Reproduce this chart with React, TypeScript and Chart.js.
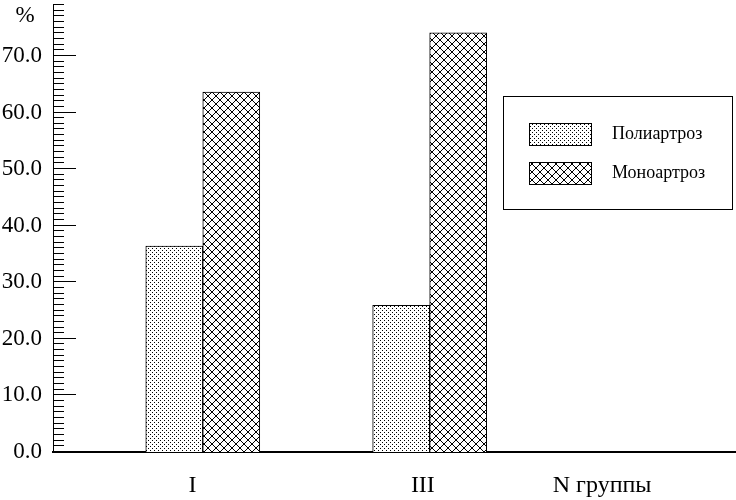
import React, { useEffect, useRef } from 'react';
import { Chart, registerables } from 'chart.js';

Chart.register(...registerables);

// ---- data ----
const groupPositions = [1, 2]; // groups I and III on the x axis
const seriesNames = ['Полиартроз', 'Моноартроз'];
const poliValues = [36.4, 25.9];
const monoValues = [63.6, 74.1];
const xTickValues = [0.955, 1.97, 2.76];
const xTickLabels = ['I', 'III', 'N группы'];
const yMin = 0;
const yMax = 79;
const yStep = 10;
const yUnit = '%';

const SERIF = '"Liberation Serif", "Times New Roman", serif';

function makePattern(kind: 'dots' | 'cross'): CanvasPattern | string {
  const size = kind === 'dots' ? 4 : 8;
  const c = document.createElement('canvas');
  c.width = size;
  c.height = size;
  const ctx = c.getContext('2d');
  if (!ctx) return '#888';
  ctx.fillStyle = '#fff';
  ctx.fillRect(0, 0, size, size);
  ctx.fillStyle = '#000';
  for (let y = 0; y < size; y++) {
    for (let x = 0; x < size; x++) {
      let on = false;
      if (kind === 'dots') on = (x === 0 && y === 0) || (x === 2 && y === 2);
      else on = x === y || x + y === size - 1;
      if (on) ctx.fillRect(x, y, 1, 1);
    }
  }
  return ctx.createPattern(c, 'repeat') || '#888';
}

const decorPlugin = {
  id: 'decor',
  afterDraw(chart: any) {
    const ctx: CanvasRenderingContext2D = chart.ctx;
    const ys = chart.scales.y;
    const left = chart.chartArea.left;
    ctx.save();
    ctx.strokeStyle = '#000';
    ctx.lineWidth = 1;
    // inner ticks on the y axis
    for (let v = yMin; v <= yMax; v++) {
      const py = Math.round(ys.getPixelForValue(v)) - 0.5;
      const len = v % yStep === 0 ? 23 : 11;
      ctx.beginPath();
      ctx.moveTo(left, py);
      ctx.lineTo(left + len, py);
      ctx.stroke();
    }
    // unit label
    ctx.fillStyle = '#000';
    ctx.font = '23px ' + SERIF;
    ctx.textAlign = 'center';
    ctx.textBaseline = 'middle';
    ctx.fillText(yUnit, 25, 16);

    // legend
    ctx.strokeRect(503.5, 96.5, 229, 113);
    const ds = chart.data.datasets;
    const rows = [134, 173];
    ds.forEach((d: any, i: number) => {
      const ry = rows[i];
      ctx.fillStyle = d.backgroundColor;
      ctx.fillRect(529, ry - 11, 63, 23);
      ctx.strokeStyle = '#000';
      ctx.strokeRect(529.5, ry - 10.5, 62, 22);
      ctx.fillStyle = '#000';
      ctx.font = '18px ' + SERIF;
      ctx.textAlign = 'left';
      ctx.textBaseline = 'middle';
      ctx.fillText(d.label, 612, ry);
    });
    ctx.restore();
  },
};

export default function App() {
  const ref = useRef<HTMLCanvasElement | null>(null);

  useEffect(() => {
    document.body.style.margin = '0';
    const canvas = ref.current;
    if (!canvas) return;
    const dots = makePattern('dots');
    const cross = makePattern('cross');
    const chart = new Chart(canvas, {
      type: 'bar',
      data: {
        datasets: [
          {
            label: seriesNames[0],
            data: groupPositions.map((x, i) => ({ x, y: poliValues[i] })),
            backgroundColor: dots as any,
            borderColor: '#000',
            borderWidth: 1,
            barThickness: 57,
          },
          {
            label: seriesNames[1],
            data: groupPositions.map((x, i) => ({ x, y: monoValues[i] })),
            backgroundColor: cross as any,
            borderColor: '#000',
            borderWidth: 1,
            barThickness: 57,
          },
        ],
      },
      options: {
        animation: false,
        responsive: true,
        maintainAspectRatio: false,
        layout: { padding: { top: 5, left: 0, right: 0, bottom: 0 } },
        plugins: {
          legend: { display: false },
          tooltip: { enabled: false },
        },
        scales: {
          x: {
            type: 'linear',
            offset: false,
            min: 0.34,
            max: 3.35,
            grid: { display: false, drawTicks: false, offset: false },
            border: { display: true, color: '#000', width: 2 },
            afterBuildTicks: (scale: any) => {
              scale.ticks = xTickValues.map((value) => ({ value }));
            },
            afterFit: (scale: any) => {
              scale.height = 48;
              scale.paddingLeft = 0;
              scale.paddingRight = 0;
            },
            ticks: {
              autoSkip: false,
              maxRotation: 0,
              padding: 19,
              color: '#000',
              font: { family: SERIF, size: 24 },
              callback: (_v: any, i: number) => xTickLabels[i],
            },
          },
          y: {
            type: 'linear',
            min: yMin,
            max: yMax,
            grid: { display: false, drawTicks: false },
            border: { display: true, color: '#000', width: 1 },
            afterFit: (scale: any) => {
              scale.width = 53;
              scale.paddingTop = 0;
              scale.paddingBottom = 0;
            },
            ticks: {
              stepSize: yStep,
              includeBounds: false,
              padding: 11,
              color: '#000',
              font: { family: SERIF, size: 23 },
              callback: (v: any) => Number(v).toFixed(1),
            },
          },
        },
      } as any,
      plugins: [decorPlugin],
    });
    return () => chart.destroy();
  }, []);

  return (
    <div style={{ width: 736, height: 500, position: 'relative', background: '#fff' }}>
      <canvas ref={ref} />
    </div>
  );
}
